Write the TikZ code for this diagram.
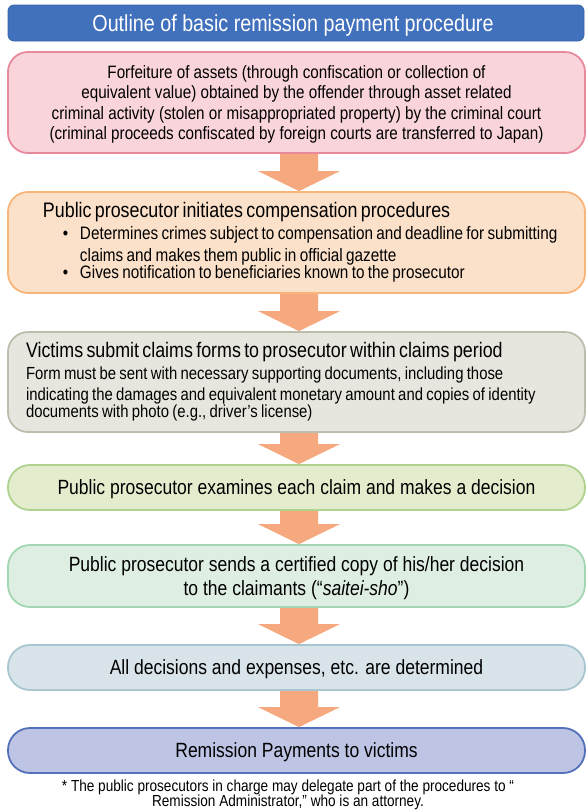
\documentclass[tikz,border=0pt]{standalone}
\usepackage{fontspec}
\setmainfont{Liberation Sans}[FakeStretch=0.85]
\usetikzlibrary{backgrounds,calc}
\definecolor{titlebg}{HTML}{4170BC}
\definecolor{titlebd}{HTML}{3A64A8}
\definecolor{pinkbg}{HTML}{F9D5DB}
\definecolor{pinkbd}{HTML}{E88A9C}
\definecolor{peachbg}{HTML}{FCE1CA}
\definecolor{peachbd}{HTML}{F7B57A}
\definecolor{greybg}{HTML}{E7E6DE}
\definecolor{greybd}{HTML}{BDBDAE}
\definecolor{greenbg}{HTML}{E3EDCD}
\definecolor{greenbd}{HTML}{AFD38F}
\definecolor{mintbg}{HTML}{DEEEE2}
\definecolor{mintbd}{HTML}{A3D6B3}
\definecolor{bluebg}{HTML}{D8E4E9}
\definecolor{bluebd}{HTML}{A8C6CF}
\definecolor{lavbg}{HTML}{BEC4E3}
\definecolor{lavbd}{HTML}{5370BA}
\definecolor{arrowc}{HTML}{F6A97E}
\newcommand{\flowarrow}[2]{%
  \fill[arrowc] let \p1=(#1.south), \p2=(#2.north) in
    (299pt-19pt,\y1) -- (299pt+19pt,\y1) -- (299pt+19pt,\y2+20pt) -- (299pt+41pt,\y2+20pt)
    -- (299pt,\y2) -- (299pt-41pt,\y2+20pt) -- (299pt-19pt,\y2+20pt) -- cycle;}
\begin{document}
\begin{tikzpicture}[x=1pt,y=-1pt,
  box/.style={draw, line width=1.8pt, rounded corners=20pt, minimum width=577pt, inner sep=0pt, align=center},
  flat/.style={text depth=0pt},
  pill/.style={box, flat, rounded corners=22pt},
  big/.style={font=\fontsize{20.6}{24}\selectfont}]
\useasboundingbox (0,0) rectangle (586,812);
\node[box, flat, fill=titlebg, draw=titlebd, line width=0.8pt, rounded corners=6pt, minimum width=576pt, minimum height=36pt, text=white,
  font=\fontsize{23.2}{26}\selectfont] (title) at (296,23) {\hspace*{-6pt}Outline of basic remission payment procedure};
\node[box, flat, fill=pinkbg, draw=pinkbd, minimum height=101pt, font=\fontsize{17.9}{20.3}\selectfont] (b1) at (296.5,102.5)
 {Forfeiture of assets (through confiscation or collection of\\
  equivalent value) obtained by the offender through asset related\\
  criminal activity (stolen or misappropriated property) by the criminal court\\
  (criminal proceeds confiscated by foreign courts are transferred to Japan)};
\node[box, fill=peachbg, draw=peachbd, minimum height=101pt, text width=541pt, align=left] (b2) at (296.5,242.5)
 {{\fontsize{21}{23}\selectfont\hspace*{17pt}Public prosecutor initiates compensation procedures}\\[1pt]
  \fontsize{18}{21.3}\selectfont
  \mbox{\hspace*{37pt}\makebox[17pt][l]{\textbullet}Determines crimes subject to compensation and deadline for submitting}\\
  \mbox{\hspace*{54pt}claims and makes them public in official gazette}\\
  \mbox{\hspace*{37pt}\makebox[17pt][l]{\textbullet}Gives notification to beneficiaries known to the prosecutor}};
\node[box, fill=greybg, draw=greybd, minimum height=100pt, text width=541pt, align=left] (b3) at (296.5,382)
 {{\fontsize{21}{23}\selectfont Victims submit claims forms to prosecutor within claims period}\\[0pt]
  \fontsize{17.5}{21.3}\selectfont
  Form must be sent with necessary supporting documents, including those\\
  indicating the damages and equivalent monetary amount and copies of identity\\
  documents with photo (e.g., driver’s license)};
\node[pill, big, fill=greenbg, draw=greenbd, minimum height=45pt] (b4) at (296.5,487.5)
 {Public prosecutor examines each claim and makes a decision};
\node[box, flat, big, rounded corners=22pt, fill=mintbg, draw=mintbd, minimum height=62pt] (b5) at (296.5,576)
 {Public prosecutor sends a certified copy of his/her decision\\
  to the claimants (“\textit{saitei-sho}”)};
\node[pill, big, fill=bluebg, draw=bluebd, minimum height=45pt] (b6) at (296.5,667.5)
 {All decisions and expenses, etc. are determined};
\node[pill, big, fill=lavbg, draw=lavbd, minimum height=45pt] (b7) at (296.5,750.5)
 {Remission Payments to victims};
\node[align=center, inner sep=0pt, font=\fontsize{16}{15.5}\selectfont] (foot) at (288,795)
 {* The public prosecutors in charge may delegate part of the procedures to “\\
  Remission Administrator,” who is an attorney.};
\begin{scope}[on background layer]
\flowarrow{b1}{b2}
\flowarrow{b2}{b3}
\flowarrow{b3}{b4}
\flowarrow{b4}{b5}
\flowarrow{b5}{b6}
\flowarrow{b6}{b7}
\end{scope}
\end{tikzpicture}
\end{document}
